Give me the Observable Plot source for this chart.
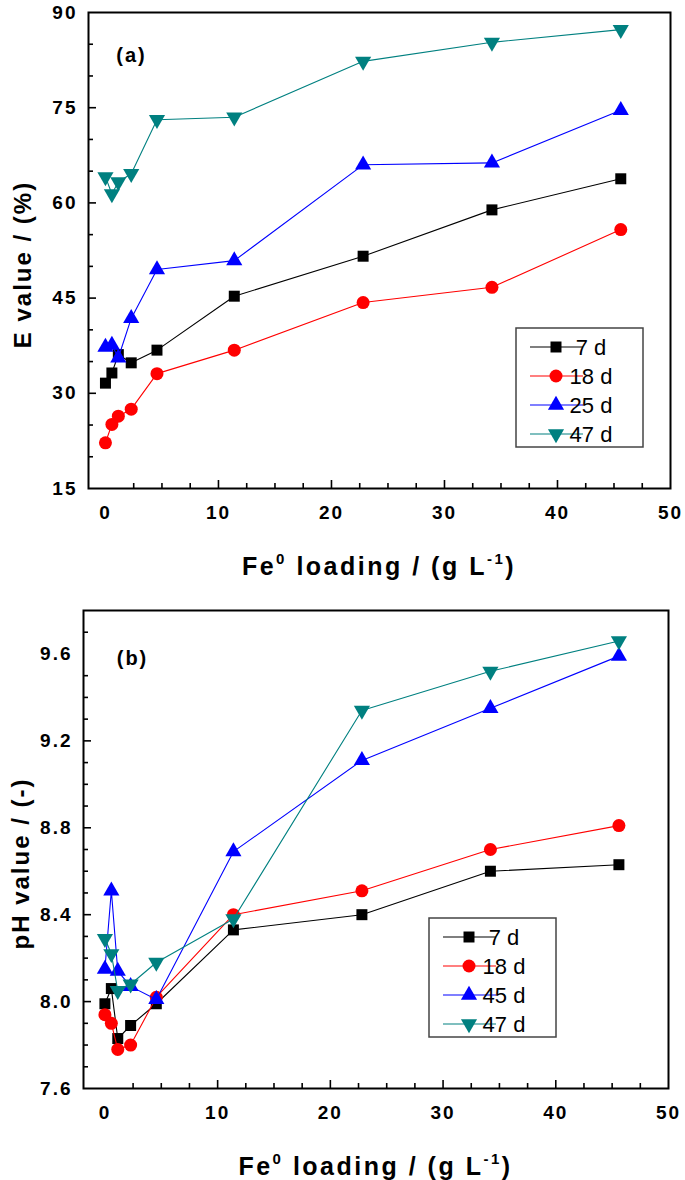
<!DOCTYPE html>
<html><head><meta charset="utf-8">
<script src="https://cdn.jsdelivr.net/npm/d3@7"></script>
<script src="https://cdn.jsdelivr.net/npm/@observablehq/plot@0.6"></script>
<style>
body{margin:0;background:#fff;}
#chart{width:685px;}
#chart svg{display:block;}
</style></head><body><div id="chart"></div>
<script>
// ---- data ----
const loading = [0, 0.57, 1.14, 2.28, 4.56, 11.4, 22.8, 34.2, 45.6];

const eSeries = ["7 d", "18 d", "25 d", "47 d"];
const e7  = [31.6, 33.2, 36.1, 34.8, 36.8, 45.3, 51.6, 58.9, 63.8];
const e18 = [22.2, 25.1, 26.4, 27.5, 33.1, 36.8, 44.3, 46.7, 55.8];
const e25 = [37.3, 37.6, 35.6, 41.8, 49.5, 50.9, 66.0, 66.3, 74.6];
const e47 = [64.1, 61.4, 63.3, 64.6, 73.1, 73.5, 82.3, 85.3, 87.3];

const phSeries = ["7 d", "18 d", "45 d", "47 d"];
const ph7  = [7.99, 8.06, 7.83, 7.89, 7.99, 8.33, 8.40, 8.60, 8.63];
const ph18 = [7.94, 7.90, 7.78, 7.80, 8.02, 8.40, 8.51, 8.70, 8.81];
const ph45 = [8.15, 8.51, 8.14, 8.07, 8.01, 8.69, 9.11, 9.35, 9.59];
const ph47 = [8.29, 8.22, 8.05, 8.08, 8.18, 8.38, 9.34, 9.52, 9.66];

const xMajor = [0, 10, 20, 30, 40, 50];
const xMinor = [2.5, 5, 7.5, 12.5, 15, 17.5, 22.5, 25, 27.5, 32.5, 35, 37.5, 42.5, 45, 47.5];
const eMajor = [15, 30, 45, 60, 75, 90];
const eMinor = [20, 25, 35, 40, 50, 55, 65, 70, 80, 85];
const phMajor = [7.6, 8.0, 8.4, 8.8, 9.2, 9.6];
const phMinor = [7.7, 7.8, 7.9, 8.1, 8.2, 8.3, 8.5, 8.6, 8.7, 8.9, 9.0, 9.1, 9.3, 9.4, 9.5, 9.7];
const phTickLabels = ["7.6", "8.0", "8.4", "8.8", "9.2", "9.6"];

// ---- styles ----
const colors = ["#000000", "#ff0000", "#0000ff", "#008080"];
const symbols = ["square", "circle", "triangle", "triangle"];
const rotations = [0, 0, 0, 180];
const radii = [6.2, 6.5, 6.0, 6.0];
const FONT = "'Liberation Sans', Arial, sans-serif";

function panel(opts) {
  const {series, values, yDomain, yMajor, yMinor, yFormat, yLabel, tag,
         width, height, mL, mR, mT, mB, xDomain, legendX, legendY, tagDx, tagDy, ylabDx} = opts;
  const plotH = height - mT - mB;
  const plotW = width - mL - mR;
  const marks = [];
  series.forEach((s, i) => {
    const rows = loading.map((x, j) => ({x, y: values[i][j], s}));
    marks.push(Plot.line(rows, {x: "x", y: "y", stroke: colors[i], strokeWidth: 1.1}));
    marks.push(Plot.dot(rows, {x: "x", y: "y", fill: colors[i], stroke: "none", symbol: symbols[i], rotate: rotations[i], r: radii[i]}));
  });
  marks.push(Plot.tickX(xMajor.slice(1, -1), {x: d => d, insetTop: plotH - 8, stroke: "#000", strokeWidth: 1.6}));
  marks.push(Plot.tickX(xMinor, {x: d => d, insetTop: plotH - 5, stroke: "#000", strokeWidth: 1.6}));
  marks.push(Plot.tickY(yMajor.slice(1, -1), {y: d => d, insetRight: plotW - 8, stroke: "#000", strokeWidth: 1.6}));
  marks.push(Plot.tickY(yMinor, {y: d => d, insetRight: plotW - 5, stroke: "#000", strokeWidth: 1.6}));
  marks.push(Plot.axisX({ticks: xMajor, tickSize: 0, tickPadding: 17, label: null, fontSize: 19, fontWeight: "bold", fontFamily: FONT}));
  marks.push(Plot.axisY({ticks: yMajor, tickSize: 0, tickPadding: 11, label: null, fontSize: 19, fontWeight: "bold", fontFamily: FONT, tickFormat: yFormat}));
  marks.push(Plot.frame({stroke: "#000", strokeWidth: 2}));
  marks.push(Plot.text([tag], {text: d => d, frameAnchor: "top-left", dx: tagDx, dy: tagDy, fontSize: 20, fontWeight: "bold", fontFamily: FONT, textAnchor: "middle", lineAnchor: "middle"}));
  marks.push(Plot.text([yLabel], {text: d => d, frameAnchor: "left", dx: ylabDx, dy: 14, rotate: -90, fontSize: 24, fontWeight: "bold", fontFamily: FONT, textAnchor: "middle", lineAnchor: "middle"}));

  const svg = Plot.plot({
    width, height, marginLeft: mL, marginRight: mR, marginTop: mT, marginBottom: mB,
    x: {domain: xDomain},
    y: {domain: yDomain},
    style: {fontFamily: FONT, color: "#000", background: "#fff", overflow: "visible"},
    marks
  });
  const root = d3.select(svg);
  root.selectAll("text").style("letter-spacing", "2px");

  // x-axis title with superscripts
  const cx = (mL + width - mR) / 2;
  const ty = height - mB + 87;
  const t = root.append("text")
    .attr("x", cx).attr("y", ty)
    .attr("text-anchor", "middle")
    .style("font-family", FONT).style("font-size", "25px").style("font-weight", "bold")
    .style("letter-spacing", "2.5px").attr("fill", "#000");
  t.append("tspan").text("Fe");
  t.append("tspan").attr("dy", -11).style("font-size", "15px").text("0");
  t.append("tspan").attr("dy", 11).text(" loading / (g L");
  t.append("tspan").attr("dy", -11).style("font-size", "15px").text("-1");
  t.append("tspan").attr("dy", 11).text(")");

  // legend
  const g = root.append("g").attr("transform", `translate(${legendX},${legendY})`);
  g.append("rect").attr("width", 127).attr("height", 119).attr("fill", "#fff")
    .attr("stroke", "#444").attr("stroke-width", 1.5);
  const symMap = {square: d3.symbolSquare, circle: d3.symbolCircle, triangle: d3.symbolTriangle};
  series.forEach((s, i) => {
    const yy = 19 + i * 29;
    g.append("line").attr("x1", 14).attr("x2", 67).attr("y1", yy).attr("y2", yy)
      .attr("stroke", colors[i]).attr("stroke-width", 1.1);
    g.append("path")
      .attr("d", d3.symbol(symMap[symbols[i]], Math.PI * radii[i] * radii[i])())
      .attr("transform", `translate(40,${yy}) rotate(${rotations[i]})`)
      .attr("fill", colors[i]);
    g.append("text").attr("x", 75).attr("y", yy).attr("dy", "0.35em")
      .style("font-family", FONT).style("font-size", "22px").attr("fill", "#000")
      .text(s);
  });
  return svg;
}

const chart = document.getElementById("chart");
chart.appendChild(panel({
  series: eSeries, values: [e7, e18, e25, e47],
  yDomain: [15, 90], yMajor: eMajor, yMinor: eMinor, yFormat: d => String(d),
  yLabel: "E value / (%)", tag: "(a)",
  width: 685, height: 600, mL: 88, mR: 15, mT: 12, mB: 112, xDomain: [-1.5, 50],
  legendX: 516, legendY: 328, tagDx: 43, tagDy: 43, ylabDx: -65
}));
chart.appendChild(panel({
  series: phSeries, values: [ph7, ph18, ph45, ph47],
  yDomain: [7.6, 9.8], yMajor: phMajor, yMinor: phMinor,
  yFormat: d => phTickLabels[phMajor.indexOf(d)],
  yLabel: "pH value / (-)", tag: "(b)",
  width: 685, height: 580, mL: 83, mR: 17, mT: 10, mB: 92, xDomain: [-1.9, 50],
  legendX: 429, legendY: 318, tagDx: 49, tagDy: 48, ylabDx: -62
}));
</script>
</body></html>
